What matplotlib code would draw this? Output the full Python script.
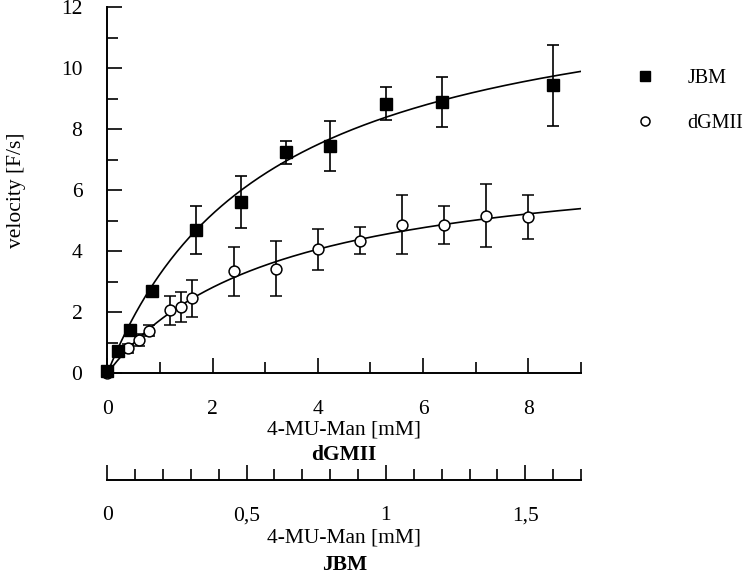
import matplotlib
matplotlib.use('Agg')
import matplotlib.pyplot as plt
import numpy as np
from matplotlib.lines import Line2D
from matplotlib.ticker import MultipleLocator

plt.rcParams['font.family'] = ['Liberation Serif', 'DejaVu Serif']

# JBM: substrate on the lower (JBM) scale, mM
jbm_conc = [0, 0.04, 0.08, 0.16, 0.32, 0.48, 0.64, 0.80, 1.0, 1.2, 1.6]
jbm_vel = [0.08, 0.74, 1.42, 2.70, 4.71, 5.62, 7.24, 7.46, 8.84, 8.90, 9.44]
jbm_err = [0.05, 0.08, 0.10, 0.12, 0.79, 0.85, 0.37, 0.82, 0.54, 0.82, 1.33]

# dGMII: substrate on the upper (dGMII) scale, mM
dgm_conc = [0, 0.4, 0.6, 0.8, 1.2, 1.4, 1.6, 2.4, 3.2, 4.0, 4.8, 5.6, 6.4, 7.2, 8.0]
dgm_vel = [0.0, 0.82, 1.09, 1.39, 2.07, 2.17, 2.46, 3.34, 3.43, 4.07, 4.35, 4.87, 4.87, 5.17, 5.12]
dgm_err = [0.05, 0.15, 0.19, 0.18, 0.48, 0.50, 0.61, 0.80, 0.91, 0.67, 0.45, 0.96, 0.63, 1.03, 0.71]

# Michaelis-Menten fits (Vmax in F/s, Km in mM)
jbm_vmax, jbm_km = 13.3, 0.584
dgm_vmax, dgm_km = 7.32, 3.2

dgm_max = 9.0
jbm_max = 1.7
scale = dgm_max / jbm_max  # JBM mM -> position on dGMII scale

jbm_ticks = [0, 0.5, 1, 1.5]
jbm_ticklabels = ['0', '0,5', '1', '1,5']

W, H = 749, 574
fig = plt.figure(figsize=(W / 100, H / 100), dpi=100)
left, right, top, bottom = 107.3, 581, 7.3, 373.3
ax = fig.add_axes([left / W, 1 - bottom / H, (right - left) / W, (bottom - top) / H])

# fitted curves
s = np.linspace(0, dgm_max, 300)
ax.plot(s, dgm_vmax * s / (dgm_km + s), color='k', lw=1.2, zorder=2)
sj = s / scale
ax.plot(s, jbm_vmax * sj / (jbm_km + sj), color='k', lw=1.2, zorder=2)

ebkw = dict(ecolor='k', elinewidth=1.2, capsize=4.3, capthick=1.2, ls='none', clip_on=False)
ax.errorbar(dgm_conc, dgm_vel, yerr=dgm_err, fmt='o', ms=7.8, mfc='white', mec='k', mew=1.1,
            zorder=3, **ebkw)
ax.errorbar(np.array(jbm_conc) * scale, jbm_vel, yerr=jbm_err, fmt='s', ms=8.5, mfc='k', mec='k',
            zorder=4, **ebkw)

ax.set_xlim(0, dgm_max)
ax.set_ylim(0, 12)
ax.xaxis.set_major_locator(MultipleLocator(2))
ax.xaxis.set_minor_locator(MultipleLocator(1))
ax.yaxis.set_major_locator(MultipleLocator(2))
ax.yaxis.set_minor_locator(MultipleLocator(1))
for sp in ['top', 'right']:
    ax.spines[sp].set_visible(False)
for sp in ['left', 'bottom']:
    ax.spines[sp].set_linewidth(1.4)
ax.tick_params(which='both', direction='in', width=1.2, labelsize=15.5, pad=19)
ax.tick_params(which='major', length=10.8)
ax.tick_params(which='minor', length=7.6)
ax.tick_params(axis='y', pad=18)

ax.set_ylabel('velocity [F/s]', fontsize=15.5)
ax.yaxis.set_label_coords(-0.172, 0.5)

# second (JBM) concentration axis
ax2 = fig.add_axes([left / W, 1 - 480 / H, (right - left) / W, 0.0001])
ax2.patch.set_visible(False)
for sp in ['top', 'right', 'left']:
    ax2.spines[sp].set_visible(False)
ax2.spines['bottom'].set_linewidth(1.4)
ax2.set_yticks([])
ax2.set_xlim(0, jbm_max)
ax2.set_xticks(jbm_ticks)
ax2.set_xticklabels(jbm_ticklabels)
ax2.xaxis.set_minor_locator(MultipleLocator(0.1))
ax2.tick_params(which='both', direction='in', width=1.2, labelsize=15.5, pad=19)
ax2.tick_params(which='major', length=10.8)
ax2.tick_params(which='minor', length=7.6)

cx = (left + right) / 2 / W
fig.text(cx, 1 - 430 / H, '4-MU-Man [mM]', ha='center', va='center', fontsize=15.5)
fig.text(cx, 1 - 455 / H, 'dGMII', ha='center', va='center', fontsize=15.5, fontweight='bold')
fig.text(cx, 1 - 538 / H, '4-MU-Man [mM]', ha='center', va='center', fontsize=15.5)
fig.text(cx, 1 - 565 / H, 'JBM', ha='center', va='center', fontsize=15.5, fontweight='bold')

handles = [Line2D([], [], marker='s', ls='none', color='k', ms=7),
           Line2D([], [], marker='o', ls='none', mfc='white', mec='k', mew=1.1, ms=6.5)]
ax.legend(handles, ['JBM', 'dGMII'], loc='center left', bbox_to_anchor=(635 / W, 1 - 101 / H),
          bbox_transform=fig.transFigure, frameon=False, fontsize=14.5, handlelength=1,
          handletextpad=1.6, labelspacing=1.25, borderpad=0, borderaxespad=0)

fig.savefig('out.png', dpi=100)
